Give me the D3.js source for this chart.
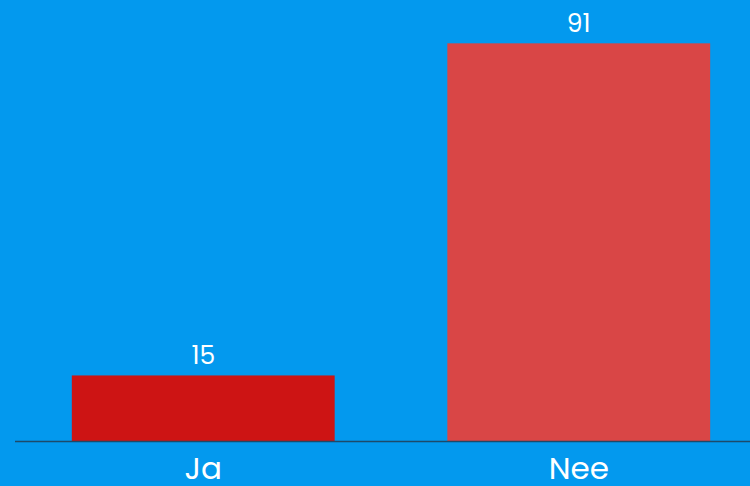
<!DOCTYPE html>
<html>
<head>
<meta charset="utf-8">
<script src="https://cdn.jsdelivr.net/npm/d3@7"></script>
<style>
  html, body { margin: 0; padding: 0; background: #0399ee; }
  svg { display: block; }
</style>
</head>
<body>
<div id="chart"></div>
<script>
var categories = ["Ja", "Nee"];
var values = [15, 91];
var barColors = ["#cd1414", "#d94646"];

var width = 750, height = 486;

var svg = d3.select("#chart")
    .append("svg")
    .attr("width", width)
    .attr("height", height)
    .style("background", "#0399ee");

var x = d3.scaleBand()
    .domain(categories)
    .range([23, 759])
    .paddingInner(0.3)
    .paddingOuter(0.13);

var y = d3.scaleLinear()
    .domain([0, 100])
    .range([441, 4]);

// bars
svg.append("g")
    .selectAll("rect")
    .data(values)
    .enter()
    .append("rect")
    .attr("x", function (d, i) { return x(categories[i]); })
    .attr("y", function (d) { return y(d); })
    .attr("width", x.bandwidth())
    .attr("height", function (d) { return y(0) - y(d); })
    .style("fill", function (d, i) { return barColors[i]; });

// value labels
svg.append("g")
    .selectAll("text")
    .data(values)
    .enter()
    .append("text")
    .attr("x", function (d, i) { return x(categories[i]) + x.bandwidth() / 2; })
    .attr("y", function (d) { return y(d) - 11; })
    .attr("text-anchor", "middle")
    .style("font-family", "Poppins, 'Open Sans', sans-serif")
    .style("font-size", "25px")
    .style("fill", "#ffffff")
    .text(function (d) { return d; });

// baseline
svg.append("line")
    .attr("x1", 15)
    .attr("x2", width)
    .attr("y1", y(0) + 0.5)
    .attr("y2", y(0) + 0.5)
    .style("stroke", "#1d4a6a")
    .style("stroke-width", 1.5);

// category labels
svg.append("g")
    .selectAll("text")
    .data(categories)
    .enter()
    .append("text")
    .attr("x", function (d) { return x(d) + x.bandwidth() / 2; })
    .attr("y", 479)
    .attr("text-anchor", "middle")
    .style("font-family", "Poppins, 'Open Sans', sans-serif")
    .style("font-size", "31px")
    .style("fill", "#ffffff")
    .text(function (d) { return d; });
</script>
</body>
</html>
